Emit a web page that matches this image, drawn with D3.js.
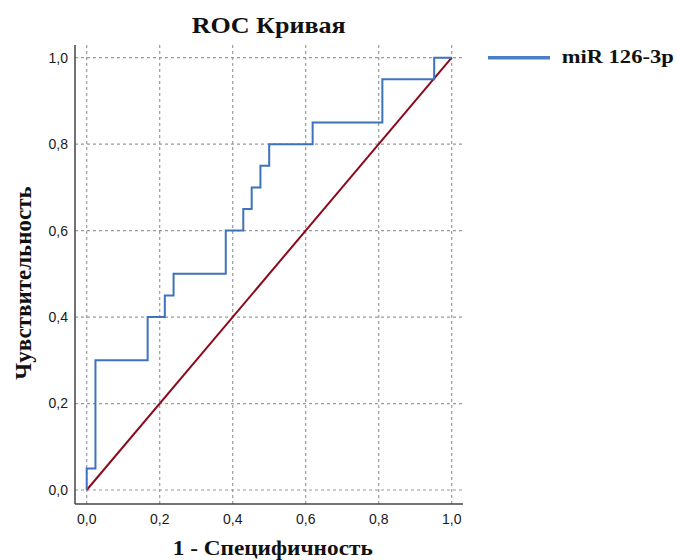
<!DOCTYPE html>
<html><head><meta charset="utf-8">
<script src="https://cdn.jsdelivr.net/npm/d3@7"></script>
<style>body{margin:0;background:#fff}</style>
</head><body>
<svg id="c" width="678" height="560"></svg>
<script>
const fpr = [0, 0, 0.024, 0.024, 0.167, 0.167, 0.214, 0.214, 0.238, 0.238, 0.381, 0.381, 0.429, 0.429, 0.452, 0.452, 0.476, 0.476, 0.5, 0.5, 0.619, 0.619, 0.810, 0.810, 0.952, 0.952, 1.0];
const tpr = [0, 0.05, 0.05, 0.30, 0.30, 0.40, 0.40, 0.45, 0.45, 0.50, 0.50, 0.60, 0.60, 0.65, 0.65, 0.70, 0.70, 0.75, 0.75, 0.80, 0.80, 0.85, 0.85, 0.95, 0.95, 1.0, 1.0];
const refX = [0, 1];
const refY = [0, 1];
const ticks = [0, 0.2, 0.4, 0.6, 0.8, 1.0];
const tickLabels = ["0,0", "0,2", "0,4", "0,6", "0,8", "1,0"];
const title = "ROC Кривая";
const xTitle = "1 - Специфичность";
const yTitle = "Чувствительность";
const seriesName = "miR 126-3p";

const svg = d3.select("#c");
const x = d3.scaleLinear().domain([0, 1]).range([86.7, 451.7]);
const y = d3.scaleLinear().domain([0, 1]).range([490, 57.7]);
const pLeft = 75, pBottom = 504, pTop = 45, pRight = 463;
const serif = "Liberation Serif, Times New Roman, serif";
const sans = "Liberation Sans, Arial, sans-serif";

// grid
const g = svg.append("g");
g.selectAll("line.h").data(ticks).join("line")
  .attr("x1", pLeft).attr("x2", pRight)
  .attr("y1", d => y(d)).attr("y2", d => y(d))
  .attr("stroke", "#9a9a9a").attr("stroke-width", 1.2).attr("stroke-dasharray", "3,3");
g.selectAll("line.v").data(ticks).join("line")
  .attr("y1", pTop).attr("y2", pBottom)
  .attr("x1", d => x(d)).attr("x2", d => x(d))
  .attr("stroke", "#9a9a9a").attr("stroke-width", 1.2).attr("stroke-dasharray", "3,3");

// axes lines
svg.append("line").attr("x1", pLeft).attr("x2", pLeft).attr("y1", pTop).attr("y2", pBottom)
  .attr("stroke", "#444").attr("stroke-width", 1.5);
svg.append("line").attr("x1", pLeft).attr("x2", pRight).attr("y1", pBottom).attr("y2", pBottom)
  .attr("stroke", "#444").attr("stroke-width", 1.5);

// tick labels
svg.selectAll("text.yt").data(ticks).join("text")
  .attr("x", pLeft - 7).attr("y", d => y(d)).attr("dy", "0.35em")
  .attr("text-anchor", "end").attr("font-family", sans)
  .attr("font-size", 14).attr("fill", "#1a1a1a").text((d, i) => tickLabels[i]);
svg.selectAll("text.xt").data(ticks).join("text")
  .attr("x", d => x(d)).attr("y", 519.5).attr("dy", "0.35em")
  .attr("text-anchor", "middle").attr("font-family", sans)
  .attr("font-size", 14).attr("fill", "#1a1a1a").text((d, i) => tickLabels[i]);

// reference line
const line = d3.line().x(d => x(d[0])).y(d => y(d[1]));
svg.append("path").datum(refX.map((v, i) => [v, refY[i]]))
  .attr("d", line).attr("fill", "none").attr("stroke", "#8b0a1c").attr("stroke-width", 2);

// ROC curve
svg.append("path").datum(fpr.map((v, i) => [v, tpr[i]]))
  .attr("d", line).attr("fill", "none").attr("stroke", "#3d72bd").attr("stroke-width", 2);

// titles
svg.append("text").attr("x", 191.7).attr("y", 33.3)
  .attr("textLength", 154).attr("lengthAdjust", "spacingAndGlyphs")
  .attr("font-family", serif).attr("font-weight", "bold")
  .attr("font-size", 23).attr("fill", "#111").text(title);
svg.append("text").attr("x", 172.7).attr("y", 554.5)
  .attr("textLength", 200).attr("lengthAdjust", "spacingAndGlyphs")
  .attr("font-family", serif).attr("font-weight", "bold")
  .attr("font-size", 22).attr("fill", "#111").text(xTitle);
svg.append("text").attr("transform", "translate(30.5,283) rotate(-90)").attr("text-anchor", "middle")
  .attr("font-family", serif).attr("font-weight", "bold")
  .attr("font-size", 23).attr("fill", "#111").text(yTitle);

// legend
svg.append("line").attr("x1", 488).attr("x2", 550).attr("y1", 57.7).attr("y2", 57.7)
  .attr("stroke", "#4a7fc4").attr("stroke-width", 3.5);
svg.append("text").attr("x", 561.7).attr("y", 63.3)
  .attr("textLength", 112).attr("lengthAdjust", "spacingAndGlyphs")
  .attr("font-family", serif).attr("font-weight", "bold")
  .attr("font-size", 18).attr("fill", "#111").text(seriesName);
</script>
</body></html>
